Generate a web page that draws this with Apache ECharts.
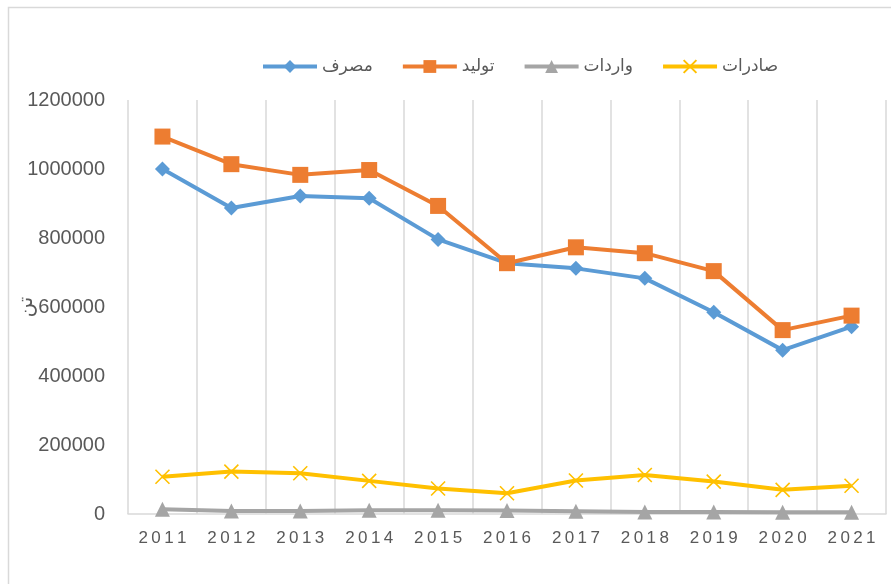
<!DOCTYPE html>
<html>
<head>
    <meta charset="UTF-8">
    <title>chart</title>
    <script src="https://cdn.jsdelivr.net/npm/echarts@6/dist/echarts.min.js"></script>
    <style>
        html, body { margin: 0; padding: 0; background: #fff; }
    </style>
</head>
<body>
<div id="main" style="width: 891px; height: 584px"></div>
<script>
    var years = ['2011', '2012', '2013', '2014', '2015', '2016', '2017', '2018', '2019', '2020', '2021'];
    var masraf = [1000000, 887000, 922000, 915000, 796000, 727000, 712000, 683000, 585000, 475000, 543000];
    var tolid = [1094000, 1014000, 983000, 997000, 893000, 727000, 773000, 756000, 704000, 533000, 575000];
    var varedat = [14000, 9000, 9000, 11000, 11000, 10000, 8000, 6000, 6000, 5000, 5000];
    var saderat = [108000, 123000, 118000, 96000, 74000, 60000, 97000, 113000, 94000, 70000, 82000];
    var yTicks = [0, 1200000, 200000]; // min, max, interval

    var font = '"Liberation Sans", "DejaVu Sans", sans-serif';
    var crossPath = 'path://M0,0L10,10M10,0L0,10';

    var myChart = echarts.init(document.getElementById('main'));

    function lineSeries(name, data, color, symbol, size) {
        return {
            name: name,
            type: 'line',
            data: data,
            symbol: symbol,
            symbolSize: size,
            lineStyle: { color: color, width: 4 },
            itemStyle: { color: color },
            emphasis: { disabled: true }
        };
    }

    var sad = lineSeries('صادرات', saderat, '#FFC000', crossPath, 14);
    sad.itemStyle = { color: 'rgba(0,0,0,0)', borderColor: '#FFC000', borderWidth: 1.6 };

    var option = {
        backgroundColor: '#fff',
        animation: false,
        graphic: [{
            type: 'rect',
            shape: { x: 8.5, y: 7.5, width: 1000, height: 1000 },
            style: { fill: 'none', stroke: '#d9d9d9', lineWidth: 1.5 },
            silent: true
        }],
        legend: {
            top: 53,
            left: 256,
            itemGap: 28,
            itemWidth: 54,
            itemHeight: 16,
            lineStyle: { width: 4 },
            textStyle: { color: '#595959', fontSize: 17, fontFamily: font },
            data: ['مصرف', 'تولید', 'واردات', 'صادرات']
        },
        grid: { left: 128, right: 5, top: 100, bottom: 70, containLabel: false, outerBoundsMode: 'none' },
        xAxis: {
            type: 'category',
            data: years,
            boundaryGap: true,
            axisLine: { lineStyle: { color: '#d9d9d9', width: 1.5 } },
            axisTick: { show: false },
            splitLine: { show: true, lineStyle: { color: '#d9d9d9', width: 1.5 } },
            axisLabel: {
                color: '#595959',
                fontSize: 17,
                fontFamily: font,
                margin: 16,
                formatter: function (v) { return v.split('').join('\u2009'); }
            }
        },
        yAxis: {
            type: 'value',
            min: yTicks[0],
            max: yTicks[1],
            interval: yTicks[2],
            name: 'تن',
            nameLocation: 'middle',
            nameRotate: 90,
            nameGap: 92,
            nameMoveOverlap: false,
            nameTextStyle: { color: '#595959', fontSize: 20, fontFamily: font },
            axisLine: { show: false },
            axisTick: { show: false },
            splitLine: { show: false },
            axisLabel: {
                color: '#595959', fontSize: 20, fontFamily: font, margin: 23,
                formatter: function (v) { return String(v); }
            }
        },
        series: [
            lineSeries('مصرف', masraf, '#5B9BD5', 'diamond', 15),
            lineSeries('تولید', tolid, '#ED7D31', 'rect', 16),
            lineSeries('واردات', varedat, '#A5A5A5', 'triangle', 15),
            sad
        ]
    };
    myChart.setOption(option);
</script>
</body>
</html>
